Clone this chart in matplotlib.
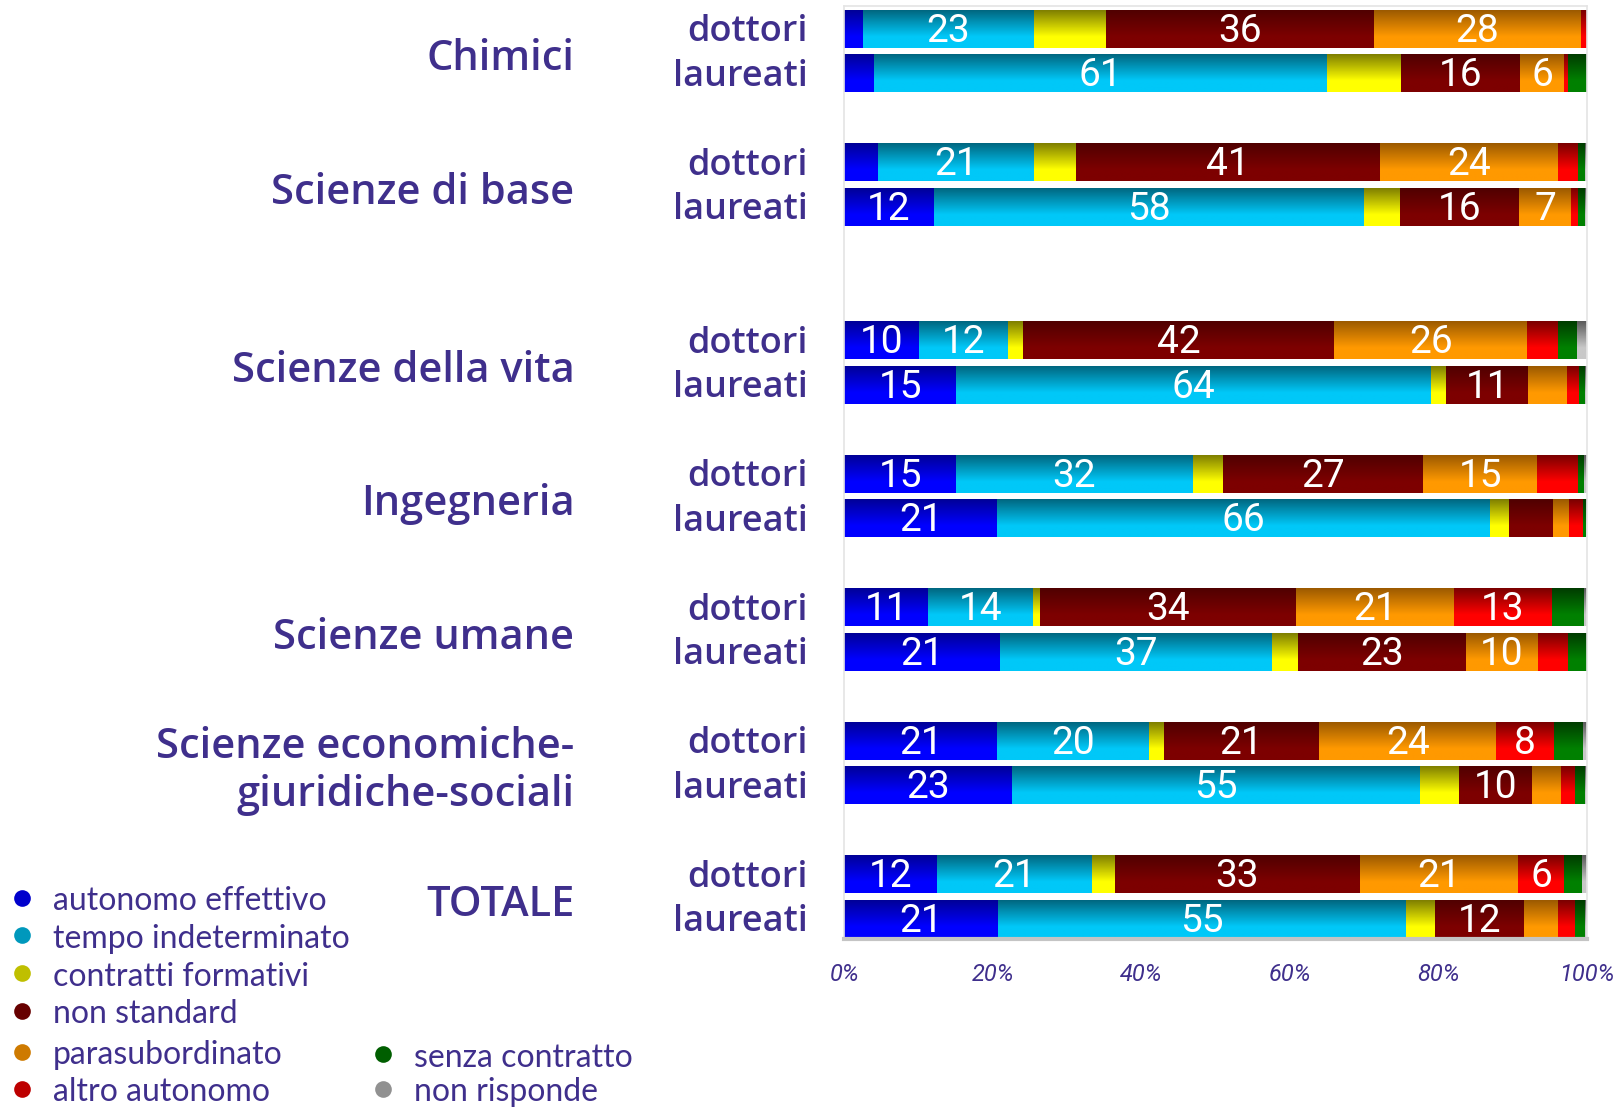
import numpy as np
import matplotlib
matplotlib.use("Agg")
import matplotlib.pyplot as plt
from matplotlib.colors import to_rgb

# groups and rows (top to bottom)
groups = ["Chimici", "Scienze di base", "Scienze della vita", "Ingegneria",
          "Scienze umane", "Scienze economiche-\ngiuridiche-sociali", "TOTALE"]
rows = ["dottori", "laureati"]

categories = ["autonomo effettivo", "tempo indeterminato", "contratti formativi",
              "non standard", "parasubordinato", "altro autonomo",
              "senza contratto", "non risponde"]

# percentage shares, one list per category, 14 bars (dottori/laureati per group)
autonomo = [2.5, 4.0, 4.5, 12.0, 10.0, 15.0, 15.0, 20.6, 11.3, 21.0, 20.6, 22.6, 12.4, 20.7]
indeterminato = [23.0, 61.0, 21.0, 58.0, 12.0, 64.0, 32.0, 66.4, 14.1, 36.6, 20.4, 55.0, 21.0, 55.0]
formativi = [9.8, 10.0, 5.7, 4.9, 2.0, 2.1, 4.0, 2.6, 1.0, 3.5, 2.0, 5.2, 3.0, 3.9]
non_standard = [36.0, 16.0, 41.0, 16.0, 42.0, 11.0, 27.0, 5.9, 34.4, 22.6, 21.0, 9.9, 33.0, 11.9]
parasub = [28.0, 6.0, 24.0, 7.0, 26.0, 5.3, 15.3, 2.1, 21.3, 9.8, 23.8, 3.9, 21.3, 4.7]
altro = [0.7, 0.5, 2.6, 0.9, 4.2, 1.6, 5.6, 1.9, 13.2, 4.0, 7.8, 1.8, 6.3, 2.2]
senza = [0.0, 2.5, 1.0, 1.0, 2.5, 0.8, 0.8, 0.4, 4.4, 2.5, 3.9, 1.4, 2.4, 1.4]
non_risponde = [0.0, 0.0, 0.2, 0.2, 1.3, 0.2, 0.3, 0.1, 0.3, 0.0, 0.5, 0.2, 0.6, 0.2]

series = [autonomo, indeterminato, formativi, non_standard, parasub, altro, senza, non_risponde]

# colours: top (dark) and bottom (bright) of the vertical gradient
top_cols = ["#000098", "#006780", "#7f7f00", "#500000", "#9c5a00", "#7a0000", "#003c00", "#5a5a5a"]
bot_cols = ["#0000ff", "#00c8f8", "#ffff00", "#7d0000", "#ff9900", "#ff0000", "#008000", "#c8c8c8"]
label_cats = [0, 1, 3, 4, 5]   # categories that get value labels

txt_col = "#3f2f8c"

# row positions (group starts, in row units)
group_start = [0, 3, 7, 10, 13, 16, 19]
ypos = []
for g in group_start:
    ypos += [g, g + 1]
ypos = np.array(ypos, dtype=float)
bar_h = 0.84

fig = plt.figure(figsize=(16.24, 11.11), dpi=100)
ax = fig.add_axes([0.520, 0.1548, 0.457, 0.8398])

t = np.linspace(0, 1, 64)
f = np.clip(t / 0.7, 0, 1)[:, None]

left = np.zeros(len(ypos))
for k, vals in enumerate(series):
    vals = np.array(vals)
    bars = ax.barh(ypos, vals, left=left, height=bar_h, color=bot_cols[k], linewidth=0)
    c0 = np.array(to_rgb(top_cols[k]))
    c1 = np.array(to_rgb(bot_cols[k]))
    grad = (c0 * (1 - f) + c1 * f)[:, None, :]
    for b, v in zip(bars, vals):
        if v <= 0:
            continue
        x0, y0 = b.get_x(), b.get_y()
        w, h = b.get_width(), b.get_height()
        ax.imshow(grad, extent=(x0, x0 + w, y0 + h, y0), aspect="auto",
                  origin="upper", interpolation="bilinear", zorder=2)
        if k in label_cats and v >= 6:
            ax.text(x0 + w / 2, y0 + h / 2 + 0.05, f"{round(v)}", color="white",
                    ha="center", va="center", fontsize=28, family="Roboto",
                    zorder=3)
    left += vals

ax.set_xlim(0, 100)
ax.set_ylim(20.45, -0.52)
ax.set_yticks([])
ax.set_xticks([0, 20, 40, 60, 80, 100])
ax.set_xticklabels([f"{v}%" for v in [0, 20, 40, 60, 80, 100]],
                   fontsize=17, style="italic", family="Roboto", color=txt_col)
ax.tick_params(axis="x", length=0, pad=17)
for s in ["top", "left", "right"]:
    ax.spines[s].set_color("#e4e4e4")
    ax.spines[s].set_linewidth(1.2)
ax.spines["bottom"].set_color("#c4c4c4")
ax.spines["bottom"].set_linewidth(3)

# row labels and group labels
for y, lab in zip(ypos, rows * len(groups)):
    ax.text(-4.9, y + 0.07, lab, ha="right", va="center", fontsize=26,
            family="Open Sans", weight="semibold", color=txt_col)
for g, name in zip(group_start, groups):
    ax.text(-36.4, g + 0.68, name, ha="right", va="center", fontsize=30,
            family="Open Sans", weight="semibold", color=txt_col, linespacing=1.2)

# legend
leg_x = [0.0134, 0.0134, 0.0134, 0.0134, 0.0134, 0.0134, 0.236, 0.236]
leg_y = [0.189, 0.155, 0.121, 0.087, 0.050, 0.017, 0.048, 0.017]
lax = fig.add_axes([0, 0, 1, 1])
lax.set_xlim(0, 1)
lax.set_ylim(0, 1)
lax.axis("off")
for k, cat in enumerate(categories):
    mid = 0.5 * (np.array(to_rgb(top_cols[k])) + np.array(to_rgb(bot_cols[k])))
    lax.plot(leg_x[k], leg_y[k] + 0.003, "o", ms=12, color=mid, mec="none")
    lax.text(leg_x[k] + 0.019, leg_y[k], cat, ha="left", va="center",
             fontsize=23, family="Lato", color=txt_col)

fig.savefig("out.png", dpi=100, facecolor="white")
